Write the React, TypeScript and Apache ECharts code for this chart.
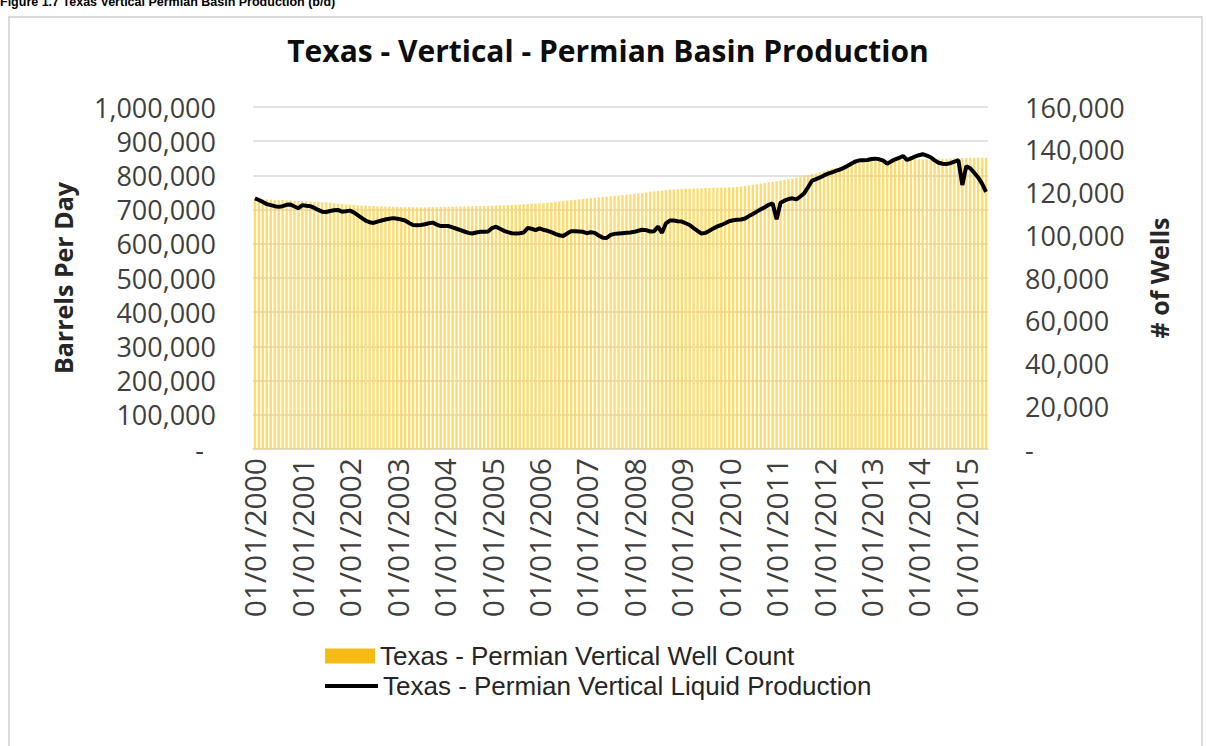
import React, { useEffect, useRef } from "react";
import * as echarts from "echarts";

const TITLE = "Texas - Vertical - Permian Basin Production";
const CAPTION = "Figure 1.7 Texas Vertical Permian Basin Production (b/d)";
const WELL_NAME = "Texas - Permian Vertical Well Count";
const LIQ_NAME = "Texas - Permian Vertical Liquid Production";
const LEFT_AXIS_NAME = "Barrels Per Day";
const RIGHT_AXIS_NAME = "# of Wells";

// Monthly categories Jan 2000 - Jun 2015
const START_YEAR = 2000;
const MONTH_COUNT = 186;
const months: string[] = [];
for (let i = 0; i < MONTH_COUNT; i++) {
  const y = START_YEAR + Math.floor(i / 12);
  const m = (i % 12) + 1;
  months.push(`${String(m).padStart(2, "0")}/01/${y}`);
}

// Liquid production, thousand barrels per day
const liquidK: number[] = [
  // 2000
  733, 728, 722, 716, 713, 710, 708, 710, 714, 715, 709, 704,
  // 2001
  713, 711, 710, 705, 699, 694, 693, 696, 698, 699, 694, 695,
  // 2002
  697, 692, 684, 676, 668, 663, 661, 665, 668, 671, 673, 675,
  // 2003
  673, 671, 668, 661, 655, 654, 655, 657, 660, 662, 656, 652,
  // 2004
  652, 652, 648, 644, 640, 636, 632, 630, 633, 635, 635, 636,
  // 2005
  646, 650, 644, 638, 634, 631, 630, 631, 633, 646, 644, 640,
  // 2006
  645, 641, 638, 634, 629, 625, 623, 630, 637, 637, 636, 635,
  // 2007
  631, 634, 632, 624, 618, 617, 626, 629, 630, 631, 632, 633,
  // 2008
  635, 638, 641, 640, 636, 637, 650, 632, 660, 668, 668, 666,
  // 2009
  665, 660, 655, 646, 638, 630, 632, 638, 645, 651, 655, 660,
  // 2010
  666, 669, 670, 671, 674, 681, 687, 694, 701, 707, 714, 718,
  // 2011
  672, 720, 726, 731, 733, 730, 738, 748, 766, 785, 789, 794,
  // 2012
  800, 805, 809, 813, 817, 822, 828, 835, 841, 844, 844, 845,
  // 2013
  848, 849, 847, 843, 834, 841, 847, 851, 857, 845, 850, 855,
  // 2014
  859, 862, 858, 853, 844, 837, 834, 833, 836, 840, 845, 772,
  // 2015
  827, 821, 808, 794, 776, 752,
];

// Vertical well count, thousands
const wellsK: number[] = [
  // 2000
  117.2, 117.0, 116.9, 116.8, 116.7, 116.6, 116.5, 116.5, 116.4, 116.3, 116.2, 116.1,
  // 2001
  116.0, 115.9, 115.8, 115.7, 115.6, 115.5, 115.4, 115.2, 115.0, 114.8, 114.6, 114.4,
  // 2002
  114.3, 114.2, 114.0, 113.9, 113.8, 113.7, 113.6, 113.5, 113.5, 113.4, 113.4, 113.3,
  // 2003
  113.3, 113.2, 113.2, 113.2, 113.1, 113.1, 113.1, 113.1, 113.2, 113.2, 113.2, 113.3,
  // 2004
  113.3, 113.3, 113.4, 113.4, 113.4, 113.5, 113.5, 113.6, 113.6, 113.7, 113.7, 113.8,
  // 2005
  113.8, 113.9, 114.0, 114.0, 114.1, 114.2, 114.3, 114.4, 114.5, 114.6, 114.7, 114.8,
  // 2006
  114.9, 115.0, 115.2, 115.4, 115.6, 115.8, 116.0, 116.2, 116.4, 116.6, 116.8, 117.0,
  // 2007
  117.2, 117.4, 117.5, 117.7, 117.9, 118.0, 118.2, 118.4, 118.6, 118.8, 119.0, 119.2,
  // 2008
  119.4, 119.6, 119.8, 120.0, 120.3, 120.5, 120.7, 120.9, 121.1, 121.3, 121.4, 121.5,
  // 2009
  121.6, 121.7, 121.8, 121.9, 122.0, 122.0, 122.1, 122.1, 122.2, 122.2, 122.3, 122.3,
  // 2010
  122.4, 122.5, 122.6, 122.8, 123.0, 123.3, 123.6, 123.9, 124.2, 124.5, 124.8, 125.0,
  // 2011
  125.3, 125.6, 125.9, 126.2, 126.6, 127.0, 127.4, 127.8, 128.2, 128.6, 129.0, 129.5,
  // 2012
  130.0, 130.5, 131.0, 131.5, 132.0, 132.5, 133.0, 133.4, 133.8, 134.1, 134.4, 134.6,
  // 2013
  134.8, 134.9, 135.0, 135.1, 135.1, 135.2, 135.2, 135.3, 135.3, 135.4, 135.4, 135.5,
  // 2014
  135.5, 135.6, 135.6, 135.7, 135.7, 135.8, 135.8, 135.9, 135.9, 136.0, 136.0, 136.1,
  // 2015
  136.1, 136.2, 136.2, 136.2, 136.3, 136.3,
];

const LEFT_MAX = 1000000;
const LEFT_STEP = 100000;
const RIGHT_MAX = 160000;
const RIGHT_STEP = 20000;

const FONT = "'Open Sans', 'DejaVu Sans', sans-serif";
const LEGEND_FONT = "'Liberation Sans', Arial, sans-serif";
const LABEL_COLOR = "#404040";

const fmt = (v: number) => (v === 0 ? "-" : v.toLocaleString("en-US"));

export default function App() {
  const ref = useRef<HTMLDivElement>(null);
  useEffect(() => {
    if (!ref.current) return;
    const chart = echarts.init(ref.current, undefined, { renderer: "svg" });
    chart.setOption({
      animation: false,
      backgroundColor: "#ffffff",
      title: {
        text: TITLE,
        left: 603,
        top: 30,
        textAlign: "center",
        textStyle: { fontFamily: FONT, fontWeight: "bold", fontSize: 30, color: "#0d0d0d" },
      },
      graphic: [
        {
          type: "rect",
          silent: true,
          z: -10,
          shape: { x: 9, y: 17, width: 1193, height: 760 },
          style: { fill: "none", stroke: "#cfcfcf", lineWidth: 1.5 },
        },
        {
          type: "text",
          silent: true,
          x: 0,
          y: -5,
          style: {
            text: CAPTION,
            font: "bold 12.5px 'Liberation Sans', Arial, sans-serif",
            fill: "#000000",
            textVerticalAlign: "top",
          },
        },
      ],
      grid: { left: 253, right: 218, top: 107, bottom: 297, containLabel: false },
      legend: [
        {
          data: [{ name: WELL_NAME, icon: "rect" }],
          left: 320,
          top: 636,
          selectedMode: false,
          itemWidth: 50,
          itemHeight: 15,
          itemGap: 0,
          itemStyle: { color: "#F6BB14", opacity: 1 },
          textStyle: { fontFamily: LEGEND_FONT, fontSize: 26, lineHeight: 30, color: "#262626" },
        },
        {
          data: [{ name: LIQ_NAME, icon: "rect" }],
          left: 320,
          top: 666,
          selectedMode: false,
          itemWidth: 53,
          itemHeight: 4,
          itemGap: 0,
          itemStyle: { color: "#000000" },
          textStyle: { fontFamily: LEGEND_FONT, fontSize: 26, lineHeight: 30, color: "#262626" },
        },
      ],
      xAxis: {
        type: "category",
        data: months,
        axisLine: { lineStyle: { color: "#d9d9d9", width: 1.5 } },
        axisTick: { interval: 11, alignWithLabel: true, length: 6, lineStyle: { color: "#d9d9d9" } },
        axisLabel: {
          interval: 11,
          rotate: 90,
          margin: 9,
          fontFamily: FONT,
          fontSize: 30,
          color: LABEL_COLOR,
        },
      },
      yAxis: [
        {
          type: "value",
          min: 0,
          max: LEFT_MAX,
          interval: LEFT_STEP,
          name: LEFT_AXIS_NAME,
          nameLocation: "middle",
          nameGap: 178,
          nameTextStyle: { fontFamily: FONT, fontWeight: "bold", fontSize: 25, color: "#262626" },
          axisLine: { show: false },
          axisTick: { show: false },
          splitLine: { lineStyle: { color: "#d9d9d9", width: 1.5 } },
          axisLabel: {
            margin: 37,
            fontFamily: FONT,
            fontSize: 27,
            color: LABEL_COLOR,
            formatter: (v: number) => (v === 0 ? "{dash|-}" : fmt(v)),
            rich: { dash: { fontFamily: FONT, fontSize: 27, color: LABEL_COLOR, padding: [0, 12, 0, 0] } },
          },
        },
        {
          type: "value",
          position: "right",
          min: 0,
          max: RIGHT_MAX,
          interval: RIGHT_STEP,
          name: RIGHT_AXIS_NAME,
          nameLocation: "middle",
          nameGap: 158,
          nameTextStyle: { fontFamily: FONT, fontWeight: "bold", fontSize: 25, color: "#262626" },
          axisLine: { show: false },
          axisTick: { show: false },
          splitLine: { show: false },
          axisLabel: {
            margin: 37,
            fontFamily: FONT,
            fontSize: 27,
            color: LABEL_COLOR,
            formatter: fmt,
          },
        },
      ],
      series: [
        {
          name: WELL_NAME,
          type: "bar",
          yAxisIndex: 1,
          data: wellsK.map((v) => v * 1000),
          barCategoryGap: "40%",
          itemStyle: { color: "#FFD24A", opacity: 0.8 },
          emphasis: { disabled: true },
        },
        {
          name: LIQ_NAME,
          type: "line",
          yAxisIndex: 0,
          data: liquidK.map((v) => v * 1000),
          symbol: "none",
          lineStyle: { color: "#000000", width: 4 },
          itemStyle: { color: "#000000" },
          emphasis: { disabled: true },
          z: 5,
        },
      ],
    });
    return () => chart.dispose();
  }, []);
  return (
    <div
      ref={ref}
      style={{ position: "absolute", left: 0, top: 0, width: 1206, height: 746 }}
    />
  );
}
